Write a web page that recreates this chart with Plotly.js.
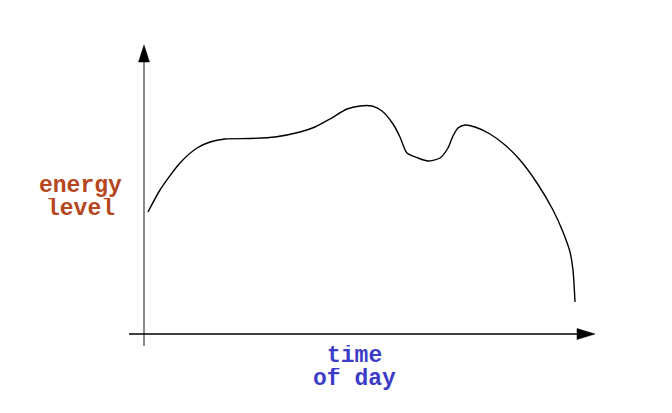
<!DOCTYPE html>
<html>
<head>
<meta charset="utf-8">
<script src="https://cdn.plot.ly/plotly-3.0.1.min.js"></script>
<style>html,body{margin:0;padding:0;background:#fff;}#chart{width:672px;height:413px;}</style>
</head>
<body>
<div id="chart"></div>
<script>
// time of day (horizontal units) and energy level (vertical units)
const timeOfDay = [148,160,180,197,210,225,250,275,300,315,330,347,360,372,382,393,400,407,418,428,440,448,453,458,465,475,490,505,520,537,553,563,570,573,575];
const energyLevel = [201,223,250,265,271,274,274.5,276,281,286,294,304,307,307,302,289,276,260,255,252,255,265,277,285,288,286,279,268,253,230,203,181,161,143,111];
const yLabelLines = ["energy", "level"];
const xLabelLines = ["time", "of day"];

const H = 413;
const Y = py => H - py; // convert sketch pixel row to energy units

const shapes = [
  {type:'line', x0:144, x1:144, y0:Y(346), y1:Y(58), line:{color:'#666', width:1.5}},
  {type:'path', path:`M 144 ${Y(45)} L 138.5 ${Y(62)} L 149.5 ${Y(62)} Z`, fillcolor:'#000', line:{color:'#000', width:0.5}},
  {type:'line', x0:129, x1:582, y0:Y(334), y1:Y(334), line:{color:'#000', width:1.5}},
  {type:'path', path:`M 595 ${Y(334)} L 577 ${Y(328.5)} L 577 ${Y(339.5)} Z`, fillcolor:'#000', line:{color:'#000', width:0.5}}
];

const fontY = {family:'"Liberation Mono", "Courier New", monospace', size:23, color:'#b5461d', weight:'bold'};
const fontX = {family:'"Liberation Mono", "Courier New", monospace', size:23, color:'#3c3cc8', weight:'bold'};

function lab(x, py, t, f) {
  return {x:x, y:Y(py), text:'<b>'+t+'</b>', showarrow:false, font:f, xanchor:'center', yanchor:'middle', height:22, borderpad:0};
}
const annotations = [
  lab(80, 186, yLabelLines[0], fontY),
  lab(80, 209, yLabelLines[1], fontY),
  lab(354, 356, xLabelLines[0], fontX),
  lab(354, 379, xLabelLines[1], fontX)
];

Plotly.newPlot('chart', [{
  x: timeOfDay, y: energyLevel, type:'scatter', mode:'lines',
  line:{color:'#000', width:1.4, shape:'spline', smoothing:0.7},
  hoverinfo:'skip'
}], {
  width:672, height:413,
  margin:{l:0, r:0, t:0, b:0},
  paper_bgcolor:'#fff', plot_bgcolor:'#fff',
  showlegend:false,
  xaxis:{range:[0,672], visible:false, fixedrange:true},
  yaxis:{range:[0,413], visible:false, fixedrange:true},
  shapes, annotations
}, {staticPlot:true, displayModeBar:false});
</script>
</body>
</html>
